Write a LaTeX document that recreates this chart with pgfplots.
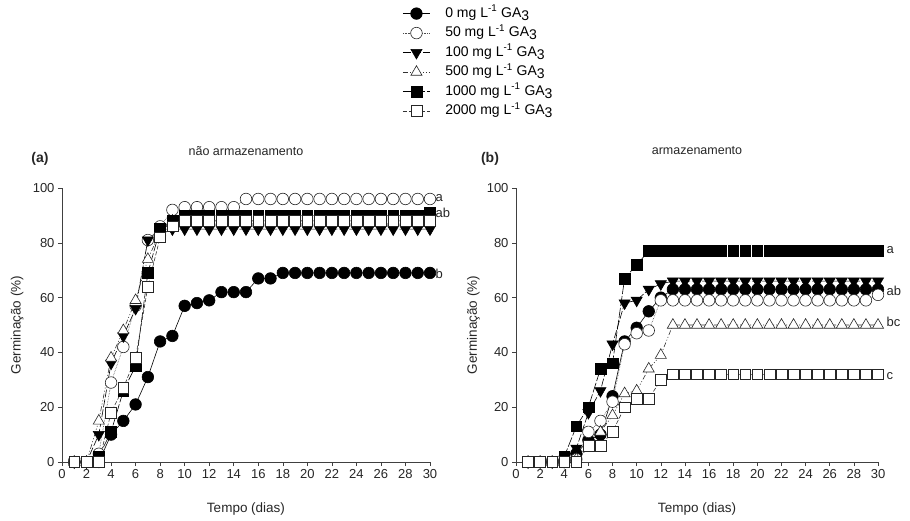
\documentclass[border=0pt]{standalone}
\usepackage{fontspec}
\setmainfont{Liberation Sans}
\usepackage{pgfplots}
\usepackage{pgfplotstable}
\pgfplotsset{compat=1.18}

\pgfplotstableread{
d c0 c50 c100 c500 c1000 c2000
1 0 0 0 0 0 0
2 0 0 0 0 0 0
3 0 3 10 15 2 0
4 10 29 36 38 11 18
5 15 42 46 48 26 27
6 21 57 56 59 35 38
7 31 81 81 74 69 64
8 44 86 85 84 85 82
9 46 92 85 88 88 86
10 57 93 85 88 90 88
11 58 93 85 88 90 88
12 59 93 85 88 90 88
13 62 93 85 88 90 88
14 62 93 85 88 90 88
15 62 96 85 88 90 88
16 67 96 85 88 90 88
17 67 96 85 88 90 88
18 69 96 85 88 90 88
19 69 96 85 88 90 88
20 69 96 85 88 90 88
21 69 96 85 88 90 88
22 69 96 85 88 90 88
23 69 96 85 88 90 88
24 69 96 85 88 90 88
25 69 96 85 88 90 88
26 69 96 85 88 90 88
27 69 96 85 88 90 88
28 69 96 85 88 90 88
29 69 96 85 88 90 88
30 69 96 85 88 91 88
}\dataA

\pgfplotstableread{
d c0 c50 c100 c500 c1000 c2000
1 0 0 0 0 0 0
2 0 0 0 0 0 0
3 0 0 0 0 0 0
4 0 0 1 0 2 0
5 3 1 5 1 13 0
6 8 11 18 5 20 6
7 10 15 26 11 34 6
8 24 22 43 17 36 11
9 44 43 58 25 67 20
10 49 47 59 26 72 23
11 55 48 63 34 77 23
12 60 59 65 39 77 30
13 63 59 66 50 77 32
14 63 59 66 50 77 32
15 63 59 66 50 77 32
16 63 59 66 50 77 32
17 63 59 66 50 77 32
18 63 59 66 50 77 32
19 63 59 66 50 77 32
20 63 59 66 50 77 32
21 63 59 66 50 77 32
22 63 59 66 50 77 32
23 63 59 66 50 77 32
24 63 59 66 50 77 32
25 63 59 66 50 77 32
26 63 59 66 50 77 32
27 63 59 66 50 77 32
28 63 59 66 50 77 32
29 63 59 66 50 77 32
30 63 61 66 50 77 32
}\dataB

\newcommand{\fs}{\fontsize{13}{15}\selectfont}
\newcommand{\fl}{\fontsize{13.5}{16}\selectfont}
\newcommand{\fleg}{\fontsize{14}{16}\selectfont}

\pgfplotsset{
  panel/.style={
    scale only axis, height=274pt,
    xmin=0, xmax=30, ymin=0, ymax=100,
    axis x line*=bottom, axis y line*=left,
    xtick={0,2,...,30}, ytick={0,20,...,100},
    tick align=outside, major tick length=4pt,
    tick style={black!75, line width=0.6pt},
    axis line style={black!75, line width=0.8pt},
    ticklabel style={font=\fs, text=black!85},
    /pgf/number format/assume math mode=true,
    clip=false,
    xlabel={Tempo (dias)}, ylabel={Germinação (\%)},
    xlabel style={font=\fl, text=black!85, at={(axis description cs:0.5,0)}, anchor=center, yshift=-47pt},
    title style={font=\fontsize{12.5}{15}\selectfont, text=black!85, at={(axis description cs:0.5,1)}, anchor=center, yshift=31pt},
    legend image code/.code={\draw[mark repeat=2,mark phase=2] plot coordinates {(0pt,0pt) (13.5pt,0pt) (27pt,0pt)};},
  },
  s0/.style={black, solid, line width=0.6pt, mark=*, mark size=5.8pt, mark options={solid, fill=black, draw=black, line width=0.6pt}},
  s50/.style={black!70, densely dotted, line width=0.6pt, mark=*, mark size=5.8pt, mark options={solid, fill=white, draw=black!85, line width=0.6pt}},
  s100/.style={black, dashed, dash pattern=on 8pt off 2pt, line width=0.6pt, mark=triangle*, mark size=6.4pt, mark options={solid, rotate=180, fill=black, draw=black, line width=0.6pt}},
  s500/.style={black!80, dash pattern=on 5pt off 2pt on 1pt off 2pt on 1pt off 2pt, line width=0.6pt, mark=triangle*, mark size=6.4pt, mark options={solid, fill=white, draw=black!85, line width=0.6pt}},
  s1000/.style={black, dash pattern=on 10pt off 2pt, line width=0.6pt, mark=square*, mark size=5.4pt, mark options={solid, fill=black, draw=black, line width=0.6pt}},
  s2000/.style={black!80, dash pattern=on 4pt off 2pt, line width=0.6pt, mark=square*, mark size=5.4pt, mark options={solid, fill=white, draw=black!85, line width=0.6pt}},
}

\begin{document}
\begin{tikzpicture}
\useasboundingbox (0,0) rectangle (910pt,520pt);

\begin{axis}[panel, width=368pt, at={(62pt,58pt)}, anchor=south west,
  title={não armazenamento},
  ylabel style={font=\fl, text=black!85, at={(axis description cs:-0.122,0.5)}, anchor=center, rotate=0},
  legend style={at={(axis description cs:0.917,1.672)}, anchor=north west, draw=none, fill=none,
    font=\fleg, row sep=4.5pt, column sep=0pt, cells={anchor=west},
    nodes={inner sep=0pt, text height=11pt, text depth=4pt},
    /tikz/every odd column/.append style={column sep=15pt}},
]
\addplot[s0] table[x=d,y=c0] {\dataA};
\addlegendentry{0 mg L\textsuperscript{-1} GA\raisebox{-0.45ex}{3}}
\addplot[s50] table[x=d,y=c50] {\dataA};
\addlegendentry{50 mg L\textsuperscript{-1} GA\raisebox{-0.45ex}{3}}
\addplot[s100] table[x=d,y=c100] {\dataA};
\addlegendentry{100 mg L\textsuperscript{-1} GA\raisebox{-0.45ex}{3}}
\addplot[s500] table[x=d,y=c500] {\dataA};
\addlegendentry{500 mg L\textsuperscript{-1} GA\raisebox{-0.45ex}{3}}
\addplot[s1000] table[x=d,y=c1000] {\dataA};
\addlegendentry{1000 mg L\textsuperscript{-1} GA\raisebox{-0.45ex}{3}}
\addplot[s2000] table[x=d,y=c2000] {\dataA};
\addlegendentry{2000 mg L\textsuperscript{-1} GA\raisebox{-0.45ex}{3}}
\node[anchor=west, font=\fs, text=black!85, inner sep=0pt] at (axis cs:30.45,96.5) {a};
\node[anchor=west, font=\fs, text=black!85, inner sep=0pt] at (axis cs:30.45,91) {ab};
\node[anchor=west, font=\fs, text=black!85, inner sep=0pt] at (axis cs:30.45,68.5) {b};
\end{axis}

\begin{axis}[panel, width=362pt, at={(516pt,58pt)}, anchor=south west,
  title={armazenamento},
  ylabel style={font=\fl, text=black!85, at={(axis description cs:-0.118,0.5)}, anchor=center, rotate=0},
]
\addplot[s0] table[x=d,y=c0] {\dataB};
\addplot[s50] table[x=d,y=c50] {\dataB};
\addplot[s100] table[x=d,y=c100] {\dataB};
\addplot[s500] table[x=d,y=c500] {\dataB};
\addplot[s1000] table[x=d,y=c1000] {\dataB};
\addplot[s2000] table[x=d,y=c2000] {\dataB};
\node[anchor=west, font=\fs, text=black!85, inner sep=0pt] at (axis cs:30.7,77.5) {a};
\node[anchor=west, font=\fs, text=black!85, inner sep=0pt] at (axis cs:30.7,62.5) {ab};
\node[anchor=west, font=\fs, text=black!85, inner sep=0pt] at (axis cs:30.7,51) {bc};
\node[anchor=west, font=\fs, text=black!85, inner sep=0pt] at (axis cs:30.7,31.5) {c};
\end{axis}

\node[font=\bfseries\fontsize{14}{16}\selectfont, text=black!85] at (40pt,361pt) {(a)};
\node[font=\bfseries\fontsize{14}{16}\selectfont, text=black!85] at (490pt,361pt) {(b)};
\end{tikzpicture}
\end{document}
